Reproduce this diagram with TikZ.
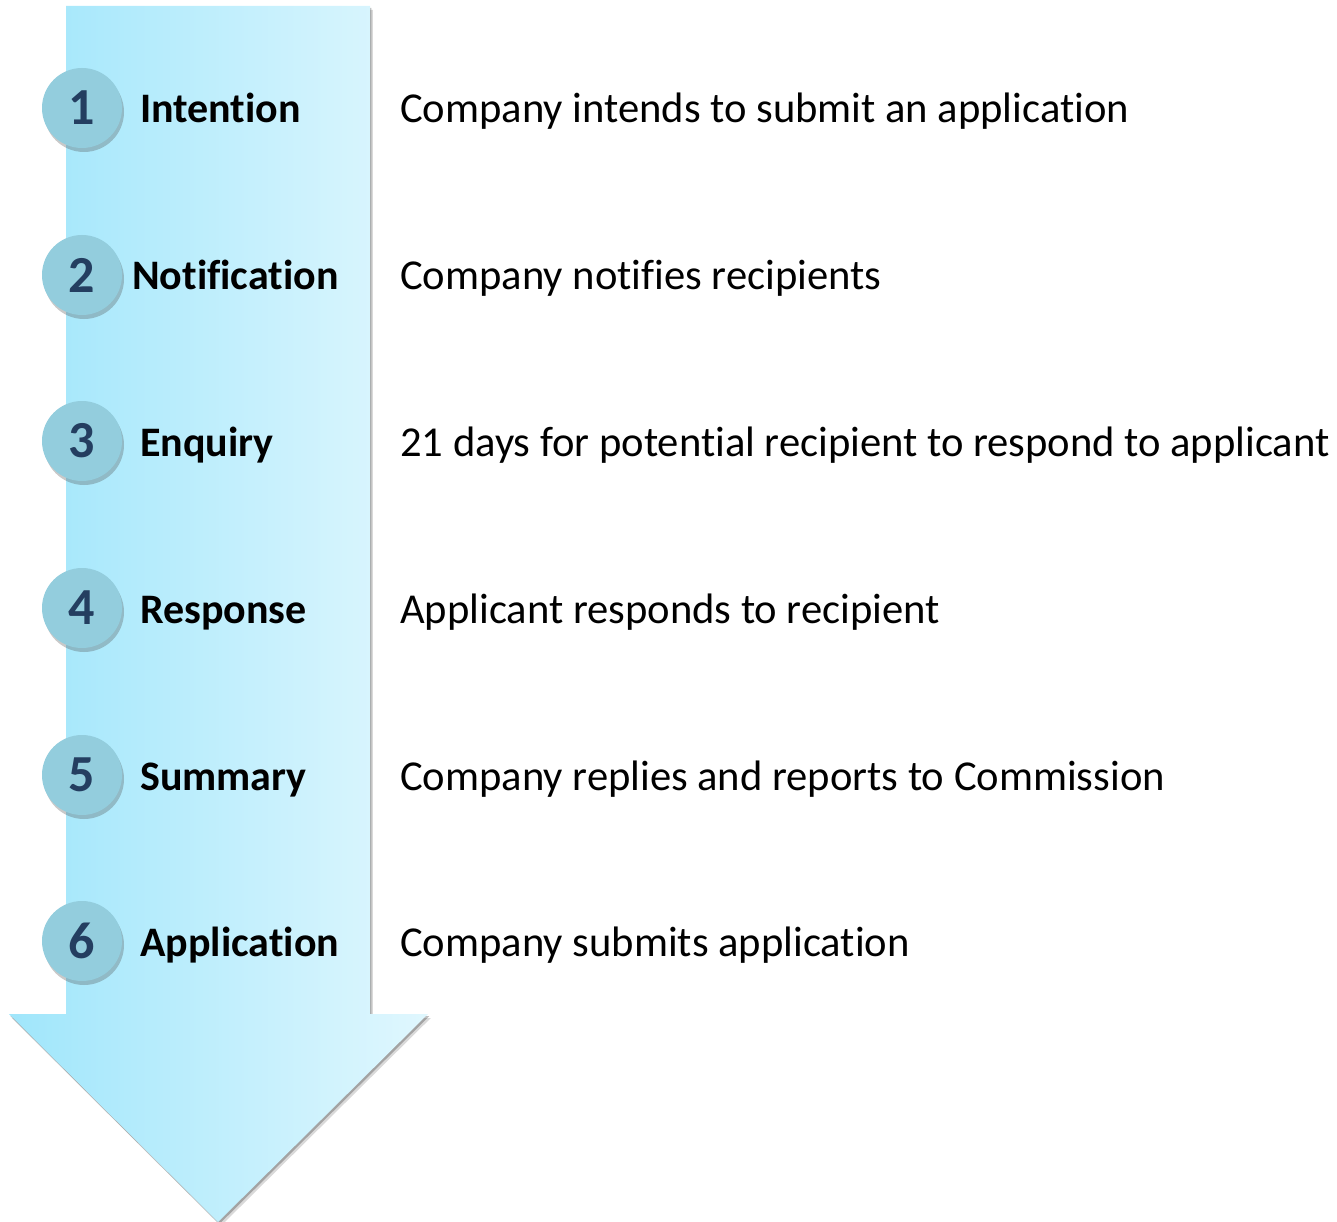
\documentclass[tikz,border=0pt]{standalone}
\usepackage{fontspec}
\setmainfont[Ligatures=NoCommon]{Carlito}
\usetikzlibrary{shadows}
\definecolor{arrowleft}{RGB}{160,230,251}
\definecolor{arrowright}{RGB}{224,247,254}
\definecolor{stepfill}{RGB}{147,205,221}
\definecolor{stepnum}{RGB}{36,62,96}

\begin{document}
\begin{tikzpicture}[x=1pt,y=-1pt,
  stepdot/.style={circle,fill=stepfill,minimum size=80pt,inner sep=0pt,text=stepnum,
    font=\fontsize{52}{52}\selectfont\bfseries,
    drop shadow={shadow xshift=2pt,shadow yshift=-4pt,opacity=0.3,fill=black!70}},
  steplabel/.style={anchor=base west,inner sep=0pt,font=\fontsize{42}{42}\selectfont\bfseries},
  stepdesc/.style={anchor=base west,inner sep=0pt,font=\fontsize{42.6}{42.6}\selectfont}]
  \useasboundingbox (0,0) rectangle (1337,1222);
  % soft shadow under the arrow
  \foreach \s/\o in {4/0.15,2/0.25}
    \fill[black,opacity=\o,shift={(\s*0.7,\s)}]
      (66,6) -- (370,6) -- (370,1014) -- (428,1014) -- (218,1222) -- (9,1014) -- (66,1014) -- cycle;
  % the arrow
  \shade[left color=arrowleft,right color=arrowright]
    (66,6) -- (370,6) -- (370,1014) -- (428,1014) -- (218,1222) -- (9,1014) -- (66,1014) -- cycle;
  % steps
  \foreach \y/\n/\lx/\lab/\desc in {
      108/1/140/Intention/{Company intends to submit an application},
      275/2/132/Notification/{Company notifies recipients},
      441/3/140/Enquiry/{21 days for potential recipient to respond to applicant},
      608/4/140/Response/{Applicant responds to recipient},
      775/5/140/Summary/{Company replies and reports to Commission},
      941/6/140/Application/{Company submits application}} {
    \node[stepdot] (n\n) at (82,\y) {\n};
    \node[steplabel] (l\n) at (\lx,\y+15) {\lab};
    \node[stepdesc] (d\n) at (400,\y+15) {\desc};
  }
\end{tikzpicture}
\end{document}
